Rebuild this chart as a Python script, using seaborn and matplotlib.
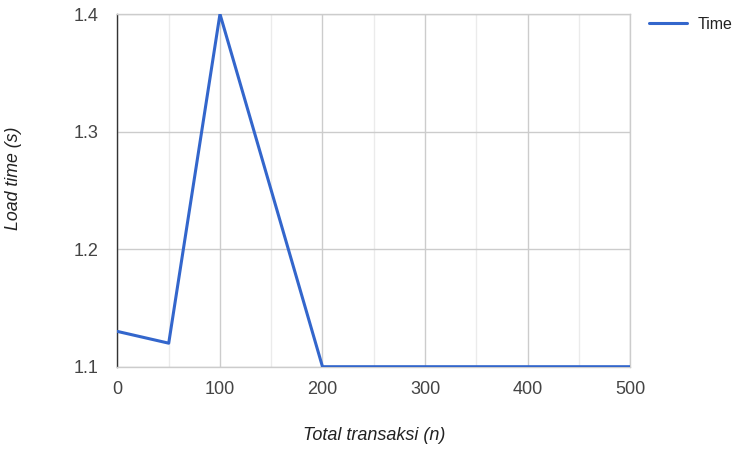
import matplotlib
matplotlib.use("Agg")
import matplotlib.pyplot as plt
import seaborn as sns
import pandas as pd
from matplotlib.ticker import MultipleLocator

# values
total_transaksi = [0, 50, 100, 150, 200, 250, 300, 350, 400, 450, 500]
load_time = [1.13, 1.12, 1.40, 1.25, 1.10, 1.10, 1.10, 1.10, 1.10, 1.10, 1.10]
x_ticks = [0, 100, 200, 300, 400, 500]
y_ticks = [1.1, 1.2, 1.3, 1.4]

df = pd.DataFrame({"Total transaksi (n)": total_transaksi, "Time": load_time})

sns.set_style("white")
plt.rcParams["font.family"] = ["Liberation Sans", "DejaVu Sans"]

fig = plt.figure(figsize=(7.36, 4.49), dpi=100)
ax = fig.add_axes([0.1596, 0.1833, 0.6964, 0.7855])

sns.lineplot(data=df, x="Total transaksi (n)", y="Time", ax=ax,
             color="#3366cc", linewidth=2.2, label="Time", zorder=3)

ax.set_xlim(0, 500)
ax.set_ylim(1.1, 1.4)
ax.set_xticks(x_ticks)
ax.set_yticks(y_ticks)
ax.xaxis.set_minor_locator(MultipleLocator(50))
ax.grid(True, which="major", color="#cccccc", linewidth=1)
ax.grid(True, which="minor", axis="x", color="#ebebeb", linewidth=1)
ax.set_axisbelow(True)
ax.tick_params(which="both", length=0, labelsize=13, colors="#444444")
ax.tick_params(axis="x", pad=10)
ax.tick_params(axis="y", pad=14)

for s in ["top", "right", "bottom"]:
    ax.spines[s].set_color("#cccccc")
ax.spines["left"].set_color("#333333")
for s in ax.spines.values():
    s.set_linewidth(1)

ax.set_xlabel("Total transaksi (n)", fontsize=13, style="italic", color="#222222")
ax.set_ylabel("Load time (s)", fontsize=12.8, style="italic", color="#222222")
ax.xaxis.set_label_coords(0.5, -0.196)
ax.yaxis.set_label_coords(-0.202, 0.535)
ax.xaxis.label.set_va("center")
ax.yaxis.label.set_va("center")

ax.get_legend().remove()
leg = fig.legend(loc="upper left", bbox_to_anchor=(0.8818, 0.962), frameon=False,
                 fontsize=11.5, handlelength=2.4, handletextpad=0.63,
                 borderpad=0, borderaxespad=0)
for t in leg.get_texts():
    t.set_color("#222222")

fig.savefig("out.png", dpi=100)
